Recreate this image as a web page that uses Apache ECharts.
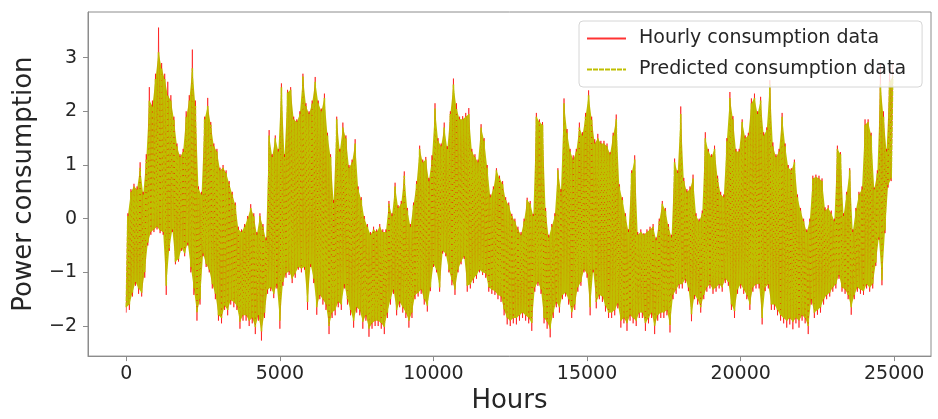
<!DOCTYPE html>
<html>
<head>
<meta charset="utf-8">
<script src="https://cdn.jsdelivr.net/npm/echarts@6/dist/echarts.min.js"></script>
<style>
html,body{margin:0;padding:0;background:#fff;}
#chart{width:938px;height:419px;}
</style>
</head>
<body>
<div id="chart"></div>
<script>
// Envelope of the hourly series in 100-hour bins:
// for each bin the lowest and highest value reached.
const BIN_HOURS = 100;
const actualHigh = [
 0.1,0.55,0.65,0.6,1.05,0.5,1.2,2.45,2.2,2.7,
 3.56,2.9,2.7,2.55,2.3,1.9,1.4,1.2,1.3,2.0,
 2.3,3.15,2.2,0.6,0.5,1.9,2.25,1.8,1.4,1.3,
 0.95,1.0,0.9,0.7,0.5,0.3,-0.15,-0.2,-0.1,0.05,
 0.27,0.1,-0.25,0.1,-0.1,-0.35,1.65,1.2,1.55,1.3,
 2.52,1.2,2.4,2.45,1.9,1.85,2.0,2.7,2.15,2.0,
 2.2,2.64,2.2,2.05,2.33,1.6,1.2,0.35,1.9,1.3,
 1.79,1.55,1.0,1.1,1.48,0.6,0.4,0.05,-0.1,-0.25,
 -0.15,-0.2,-0.1,-0.2,-0.2,0.33,0.1,0.67,0.25,0.33,
 0.88,0.2,-0.1,0.3,0.7,1.36,1.1,1.15,0.76,1.18,
 2.15,1.5,1.4,1.79,1.35,2.0,2.61,2.15,1.9,1.91,
 1.97,2.06,1.3,1.2,1.1,1.76,1.5,1.0,0.45,0.6,
 0.94,0.8,0.7,0.4,0.3,0.09,0.0,-0.15,-0.25,0.0,
 0.39,0.33,0.09,1.97,1.85,1.8,0.2,-0.3,-0.1,0.1,
 0.94,0.55,2.24,1.67,1.3,1.18,1.3,1.79,1.61,1.97,
 2.39,1.9,1.48,1.58,1.45,1.45,1.4,1.24,1.6,1.94,
 0.64,0.4,0.1,-0.2,0.9,1.18,-0.25,-0.2,-0.27,-0.2,
 -0.15,-0.1,-0.35,0.0,0.33,0.2,-0.1,-0.3,1.12,0.9,
 2.09,0.76,0.55,0.6,0.82,0.1,0.0,0.15,1.61,1.3,
 1.2,1.36,0.8,0.5,0.45,1.5,2.36,1.91,1.3,1.3,
 1.85,1.55,1.6,2.24,2.33,2.0,2.27,1.61,1.7,2.58,
 1.42,1.2,1.3,1.97,1.4,1.0,0.94,1.1,0.45,0.2,
 0.0,-0.2,0.0,0.8,0.82,0.8,0.75,0.21,0.25,0.15,
 0.0,1.36,1.24,0.1,0.5,0.94,-0.2,0.2,0.5,0.6,
 1.85,1.85,1.6,0.58,0.9,2.9,2.0,1.3,2.85,2.9
];
const actualLow = [
 -1.75,-1.7,-1.45,-1.25,-1.4,-1.45,-1.1,-0.5,-0.3,-0.25,
 -0.2,-0.27,-0.3,-1.42,-0.6,-0.25,-0.85,-0.8,-0.6,-0.7,
 -0.5,-1.0,-1.42,-1.9,-1.6,-0.7,-0.9,-1.0,-1.3,-1.5,
 -1.9,-1.95,-1.7,-1.8,-1.6,-1.65,-1.7,-2.05,-1.9,-1.9,
 -2.0,-1.95,-2.15,-1.9,-2.27,-1.85,-1.4,-1.35,-1.48,-1.3,
 -2.05,-1.25,-1.1,-1.05,-1.2,-1.1,-0.95,-1.0,-0.95,-1.7,
 -0.9,-1.2,-1.79,-1.5,-1.6,-1.7,-2.15,-1.85,-1.8,-1.65,
 -1.7,-1.3,-1.6,-1.8,-2.03,-1.75,-1.8,-2.05,-1.9,-2.2,
 -2.05,-2.0,-2.0,-2.05,-2.15,-1.85,-1.6,-1.4,-1.8,-1.65,
 -1.75,-1.85,-2.03,-1.85,-1.5,-1.45,-1.4,-1.6,-1.73,-1.35,
 -0.9,-1.0,-1.36,-0.65,-0.7,-1.0,-1.24,-1.42,-1.0,-0.85,
 -0.75,-1.36,-1.3,-1.2,-1.12,-1.0,-1.05,-1.1,-1.36,-1.4,
 -1.42,-1.5,-1.55,-1.8,-1.97,-2.0,-1.95,-1.97,-1.9,-1.85,
 -1.9,-1.95,-2.09,-1.36,-1.25,-1.4,-1.95,-2.05,-2.21,-1.85,
 -1.65,-1.75,-1.5,-1.45,-1.6,-1.85,-1.7,-1.36,-1.25,-1.0,
 -1.1,-1.8,-1.0,-1.67,-1.5,-1.55,-1.73,-1.85,-1.85,-1.8,
 -1.67,-2.03,-1.95,-2.09,-1.9,-1.95,-2.0,-1.85,-1.85,-2.09,
 -1.95,-1.85,-2.15,-1.9,-1.85,-1.85,-1.8,-2.12,-1.5,-1.4,
 -1.3,-1.3,-1.2,-1.35,-1.91,-1.5,-1.6,-1.75,-1.5,-1.36,
 -1.3,-1.4,-1.36,-1.3,-1.36,-1.2,-1.25,-1.7,-1.85,-1.4,
 -1.3,-1.4,-1.5,-1.7,-1.36,-1.3,-1.3,-1.97,-1.35,-1.3,
 -1.7,-1.7,-1.8,-1.9,-1.95,-2.03,-1.97,-2.06,-1.95,-2.03,
 -1.9,-1.95,-2.15,-1.6,-1.85,-1.79,-1.75,-1.6,-1.5,-1.45,
 -1.36,-1.3,-1.12,-1.36,-1.4,-1.5,-1.79,-1.5,-1.36,-1.4,
 -1.42,-1.3,-1.36,-1.3,-0.88,-0.39,-1.24,-0.27,0.58,0.7
];
// Envelope of the predicted series (same bins).
const predictedHigh = [
 0.05,0.5,0.6,0.55,0.95,0.45,1.1,2.2,2.1,2.6,
 3.1,2.8,2.6,2.3,2.2,1.85,1.35,1.15,1.25,1.9,
 2.2,2.8,2.1,0.55,0.45,1.85,2.1,1.75,1.35,1.25,
 0.9,0.95,0.85,0.65,0.45,0.25,-0.2,-0.25,-0.15,0.0,
 0.2,0.05,-0.3,0.05,-0.15,-0.4,1.55,1.15,1.5,1.25,
 2.45,1.15,2.35,2.4,1.85,1.8,1.95,2.65,2.1,1.95,
 2.15,2.55,2.15,2.0,2.25,1.55,1.15,0.3,1.85,1.25,
 1.7,1.5,0.95,1.05,1.4,0.55,0.35,0.0,-0.15,-0.3,
 -0.2,-0.25,-0.15,-0.25,-0.25,0.28,0.05,0.6,0.2,0.28,
 0.8,0.15,-0.15,0.25,0.65,1.3,1.05,1.1,0.7,1.1,
 2.05,1.45,1.35,1.7,1.3,1.95,2.5,2.05,1.85,1.85,
 1.9,1.95,1.25,1.15,1.05,1.7,1.45,0.95,0.4,0.55,
 0.9,0.75,0.65,0.35,0.25,0.05,-0.05,-0.2,-0.3,-0.05,
 0.35,0.28,0.05,1.9,1.8,1.75,0.15,-0.35,-0.15,0.05,
 0.9,0.5,2.15,1.6,1.25,1.1,1.25,1.7,1.55,1.9,
 2.3,1.85,1.4,1.5,1.4,1.4,1.35,1.2,1.55,1.85,
 0.6,0.35,0.05,-0.25,0.85,1.1,-0.3,-0.25,-0.3,-0.25,
 -0.2,-0.15,-0.4,-0.05,0.28,0.15,-0.15,-0.35,1.05,0.85,
 1.95,0.7,0.5,0.55,0.75,0.05,-0.05,0.1,1.5,1.25,
 1.15,1.3,0.75,0.45,0.4,1.45,2.25,1.85,1.25,1.25,
 1.8,1.5,1.55,2.15,2.25,1.95,2.2,1.55,1.65,2.5,
 1.35,1.15,1.25,1.9,1.35,0.95,0.9,1.05,0.4,0.15,
 -0.05,-0.25,-0.05,0.75,0.78,0.75,0.7,0.15,0.2,0.1,
 -0.05,1.3,1.2,0.05,0.45,0.9,-0.25,0.15,0.45,0.55,
 1.75,1.8,1.55,0.55,0.85,2.5,1.9,1.25,2.55,2.65
];
const predictedLow = [
 -1.65,-1.6,-1.38,-1.18,-1.3,-1.38,-1.0,-0.45,-0.25,-0.2,
 -0.15,-0.22,-0.25,-1.25,-0.55,-0.2,-0.8,-0.75,-0.55,-0.65,
 -0.45,-0.9,-1.3,-1.75,-1.5,-0.65,-0.85,-0.95,-1.22,-1.4,
 -1.8,-1.85,-1.62,-1.7,-1.52,-1.55,-1.62,-1.92,-1.8,-1.8,
 -1.9,-1.85,-2.02,-1.8,-2.1,-1.75,-1.32,-1.28,-1.4,-1.22,
 -1.9,-1.18,-1.02,-0.98,-1.12,-1.02,-0.9,-0.93,-0.9,-1.55,
 -0.85,-1.12,-1.65,-1.42,-1.5,-1.6,-2.0,-1.75,-1.7,-1.55,
 -1.6,-1.22,-1.5,-1.7,-1.9,-1.65,-1.7,-1.92,-1.8,-2.05,
 -1.95,-1.9,-1.9,-1.95,-2.02,-1.75,-1.5,-1.32,-1.7,-1.55,
 -1.65,-1.75,-1.9,-1.75,-1.42,-1.38,-1.32,-1.5,-1.62,-1.28,
 -0.85,-0.95,-1.28,-0.6,-0.65,-0.95,-1.15,-1.32,-0.95,-0.8,
 -0.7,-1.25,-1.22,-1.12,-1.05,-0.95,-1.0,-1.02,-1.28,-1.32,
 -1.35,-1.42,-1.45,-1.7,-1.85,-1.9,-1.85,-1.85,-1.8,-1.75,
 -1.8,-1.85,-1.95,-1.28,-1.18,-1.32,-1.85,-1.92,-2.05,-1.75,
 -1.55,-1.65,-1.42,-1.38,-1.5,-1.75,-1.6,-1.28,-1.18,-0.95,
 -1.02,-1.65,-0.95,-1.55,-1.42,-1.45,-1.62,-1.75,-1.75,-1.7,
 -1.58,-1.9,-1.85,-1.95,-1.8,-1.85,-1.9,-1.75,-1.75,-1.95,
 -1.85,-1.75,-2.0,-1.8,-1.75,-1.75,-1.7,-1.98,-1.42,-1.32,
 -1.22,-1.22,-1.12,-1.28,-1.78,-1.42,-1.5,-1.65,-1.42,-1.28,
 -1.22,-1.32,-1.28,-1.22,-1.28,-1.12,-1.18,-1.6,-1.72,-1.32,
 -1.22,-1.32,-1.42,-1.6,-1.28,-1.22,-1.22,-1.85,-1.28,-1.22,
 -1.6,-1.6,-1.7,-1.8,-1.85,-1.9,-1.85,-1.92,-1.85,-1.9,
 -1.8,-1.85,-2.0,-1.5,-1.75,-1.7,-1.65,-1.5,-1.42,-1.38,
 -1.28,-1.22,-1.05,-1.28,-1.32,-1.42,-1.65,-1.42,-1.28,-1.32,
 -1.35,-1.22,-1.28,-1.22,-0.82,-0.35,-1.15,-0.22,0.62,0.75
];
const xTicks = [0, 5000, 10000, 15000, 20000, 25000];
const yTicks = [-2, -1, 0, 1, 2, 3];
const seriesNames = ['Hourly consumption data', 'Predicted consumption data'];

function zigzag(low, high) {
  const pts = [];
  for (let i = 0; i < low.length; i++) {
    pts.push([i * BIN_HOURS, low[i]]);
    pts.push([i * BIN_HOURS + BIN_HOURS / 2, high[i]]);
  }
  return pts;
}

const FONT = 'DejaVu Sans';
const TXT = '#262626';
const SPINE = '#8c8c8c';
const RED = 'rgba(255,0,0,0.8)';
const OLIVE = '#bfbf00';

const chart = echarts.init(document.getElementById('chart'), null, {renderer: 'canvas'});
chart.setOption({
  animation: false,
  backgroundColor: '#ffffff',
  textStyle: {fontFamily: FONT},
  grid: {left: 88, right: 7, top: 12, bottom: 55, show: true, borderColor: SPINE, borderWidth: 1, backgroundColor: 'transparent'},
  legend: {
    orient: 'vertical',
    left: 579, top: 21,
    padding: [8, 16, 8, 7],
    itemWidth: 39, itemHeight: 12, itemGap: 12,
    backgroundColor: 'rgba(255,255,255,0.8)',
    borderColor: '#d6d6d6', borderWidth: 1, borderRadius: 4,
    itemStyle: {color: 'rgba(0,0,0,0)', borderWidth: 0, opacity: 0},
    textStyle: {fontFamily: FONT, fontSize: 19, color: TXT, padding: [0, 0, 0, 8]},
    data: seriesNames
  },
  xAxis: {
    type: 'value', min: -1247, max: 26197,
    name: 'Hours', nameLocation: 'middle', nameGap: 29,
    nameTextStyle: {fontFamily: FONT, fontSize: 26, color: TXT},
    axisLine: {show: true, onZero: false, lineStyle: {color: SPINE, width: 1}},
    axisTick: {show: true, length: 5, customValues: xTicks, lineStyle: {color: SPINE}},
    axisLabel: {customValues: xTicks, fontFamily: FONT, fontSize: 19, color: TXT, margin: 8,
      formatter: v => String(v)},
    splitLine: {show: false}
  },
  yAxis: {
    type: 'value', min: -2.56, max: 3.85,
    name: 'Power consumption', nameLocation: 'middle', nameGap: 51, nameRotate: 90,
    nameTextStyle: {fontFamily: FONT, fontSize: 26, color: TXT},
    axisLine: {show: true, onZero: false, lineStyle: {color: SPINE, width: 1}},
    axisTick: {show: true, length: 5, customValues: yTicks, lineStyle: {color: SPINE}},
    axisLabel: {customValues: yTicks, fontFamily: FONT, fontSize: 19, color: TXT, margin: 11,
      formatter: v => (v < 0 ? '\u2212' + Math.abs(v) : String(v))},
    splitLine: {show: false}
  },
  series: [
    {
      // solid body of the predicted trace (the dense hourly lines fill this band)
      name: 'band', type: 'custom', silent: true, clip: true, z: 1,
      data: [[0, 0]],
      renderItem: (params, api) => {
        const pts = [];
        for (let i = 0; i < predictedHigh.length; i++) {
          pts.push(api.coord([i * BIN_HOURS + BIN_HOURS / 2, predictedHigh[i]]));
        }
        for (let i = predictedLow.length - 1; i >= 0; i--) {
          pts.push(api.coord([i * BIN_HOURS, predictedLow[i]]));
        }
        return {type: 'polygon', shape: {points: pts}, style: {fill: OLIVE}};
      }
    },
    {
      name: seriesNames[0], type: 'line', data: zigzag(actualLow, actualHigh),
      symbol: 'none', showSymbol: false, sampling: null,
      lineStyle: {color: RED, width: 0.8},
      itemStyle: {color: RED},
      z: 2
    },
    {
      name: seriesNames[1], type: 'line', data: zigzag(predictedLow, predictedHigh),
      symbol: 'none', showSymbol: false, sampling: null,
      lineStyle: {color: OLIVE, width: 1.6, type: [5, 1]},
      itemStyle: {color: OLIVE},
      z: 3
    }
  ]
});
</script>
</body>
</html>
